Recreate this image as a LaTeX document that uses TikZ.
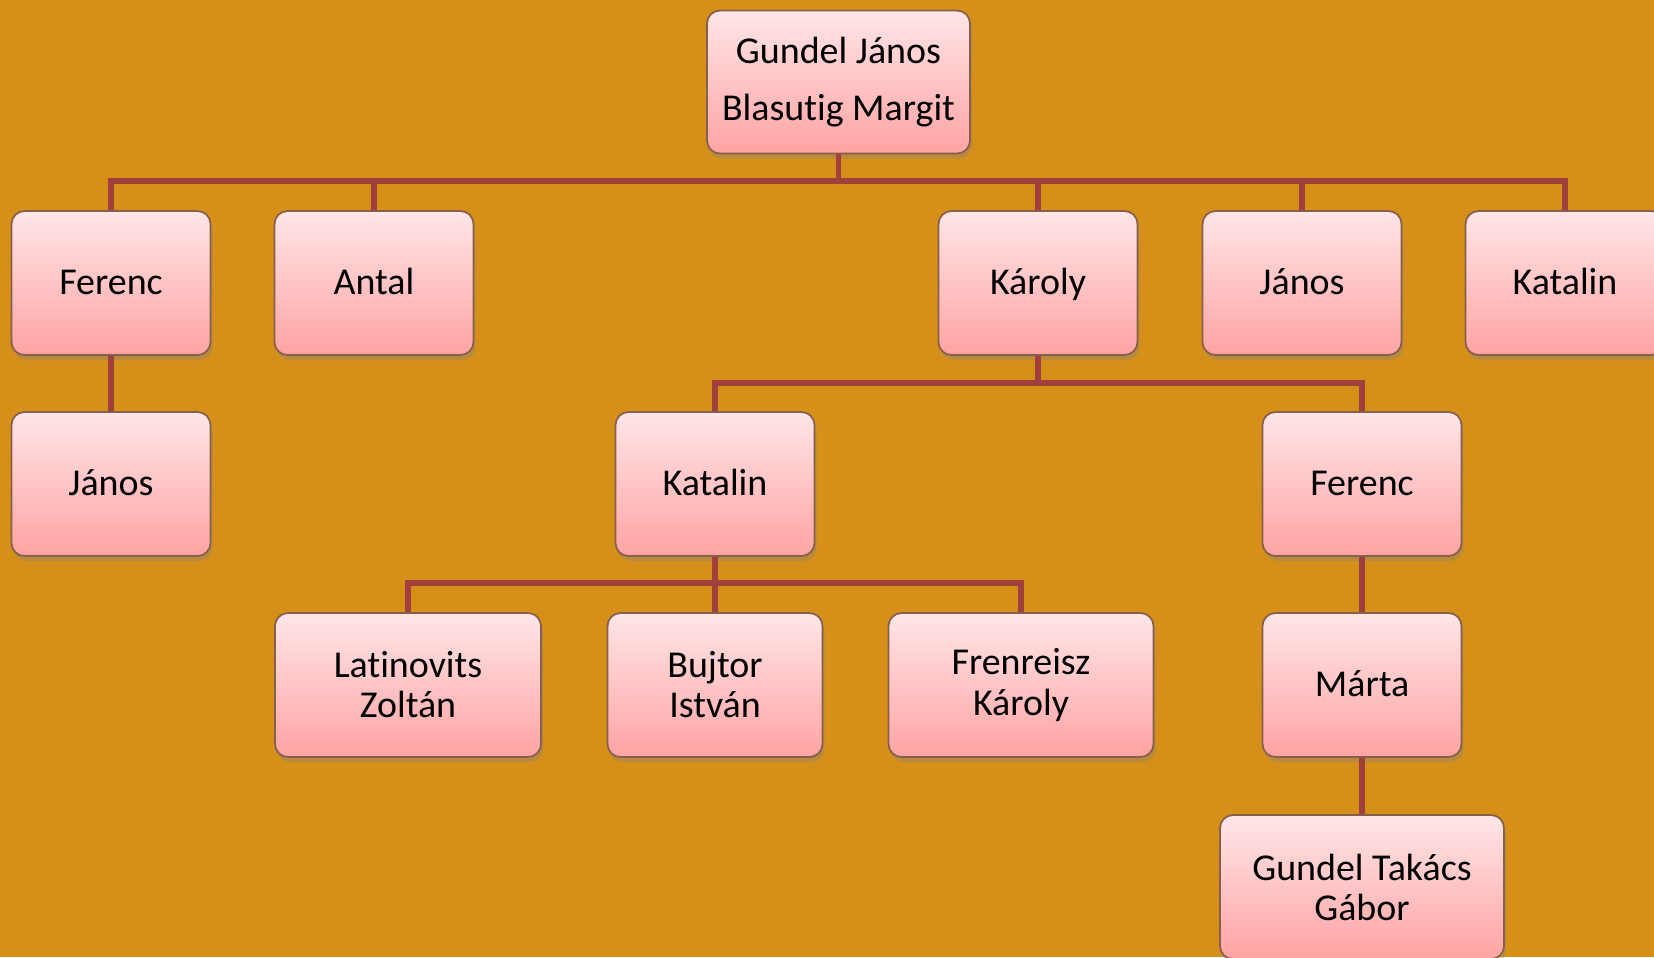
\documentclass[tikz,border=0pt]{standalone}
\usepackage{fontspec}
\setmainfont[Ligatures=NoCommon]{Carlito}
\usetikzlibrary{shadows}

\definecolor{bgcol}{RGB}{214,144,26}
\definecolor{linecol}{RGB}{160,64,62}
\definecolor{boxtop}{RGB}{255,230,232}
\definecolor{boxbot}{RGB}{255,163,163}
\definecolor{boxline}{RGB}{135,95,75}

\begin{document}
\begin{tikzpicture}

\tikzset{person/.style = {shape=rectangle, rounded corners=0.13cm, draw=boxline, line width=0.5pt,
  top color=boxtop, bottom color=boxbot, minimum width=1.99cm, minimum height=1.44cm,
  align=center, font=\fontsize{10.8}{11.4}\selectfont,
  drop shadow={opacity=0.35, shadow xshift=0.02cm, shadow yshift=-0.05cm}}}
\tikzset{single/.style = {person, text height=1.8ex, text depth=0.45ex}}
\tikzset{link/.style = {draw=linecol, line width=1.5pt}}

% background
\clip (0,0) rectangle (16.54,-9.57);
\fill[bgcol] (0,0) rectangle (16.54,-9.57);

% vertices
\node[person, minimum width=2.63cm, minimum height=1.43cm, font=\fontsize{10.8}{16.2}\selectfont] (top) at (8.385,-0.82) {Gundel János\\Blasutig Margit};
\node[single] (ferenc) at (1.11,-2.83) {Ferenc};
\node[single] (antal) at (3.74,-2.83) {Antal};
\node[single] (karoly) at (10.38,-2.83) {Károly};
\node[single] (janos) at (13.02,-2.83) {János};
\node[single] (katalin) at (15.65,-2.83) {Katalin};
\node[single] (janos2) at (1.11,-4.84) {János};
\node[single] (katalin2) at (7.15,-4.84) {Katalin};
\node[single] (ferenc2) at (13.62,-4.84) {Ferenc};
\node[person, minimum width=2.66cm] (latinovits) at (4.08,-6.85) {Latinovits\\Zoltán};
\node[person, minimum width=2.15cm] (bujtor) at (7.15,-6.85) {Bujtor\\István};
\node[person, minimum width=2.65cm] (frenreisz) at (10.21,-6.85) {Frenreisz\\Károly};
\node[single] (marta) at (13.62,-6.85) {Márta};
\node[person, minimum width=2.84cm] (gabor) at (13.62,-8.87) {Gundel Takács\\Gábor};

\coordinate (bus1) at (8.385,-1.81);
\coordinate (bus2) at (10.38,-3.83);
\coordinate (bus3) at (7.15,-5.83);

%edges
\path[link] (top) -- (bus1);
\foreach \n in {ferenc,antal,karoly,janos,katalin}
  \path[link] (bus1) -| (\n.north);
\path[link] (karoly) -- (bus2);
\foreach \n in {katalin2,ferenc2}
  \path[link] (bus2) -| (\n.north);
\path[link] (katalin2) -- (bus3);
\foreach \n in {latinovits,bujtor,frenreisz}
  \path[link] (bus3) -| (\n.north);
\path[link] (ferenc) -- (janos2);
\path[link] (ferenc2) -- (marta);
\path[link] (marta) -- (gabor);

\end{tikzpicture}
\end{document}
